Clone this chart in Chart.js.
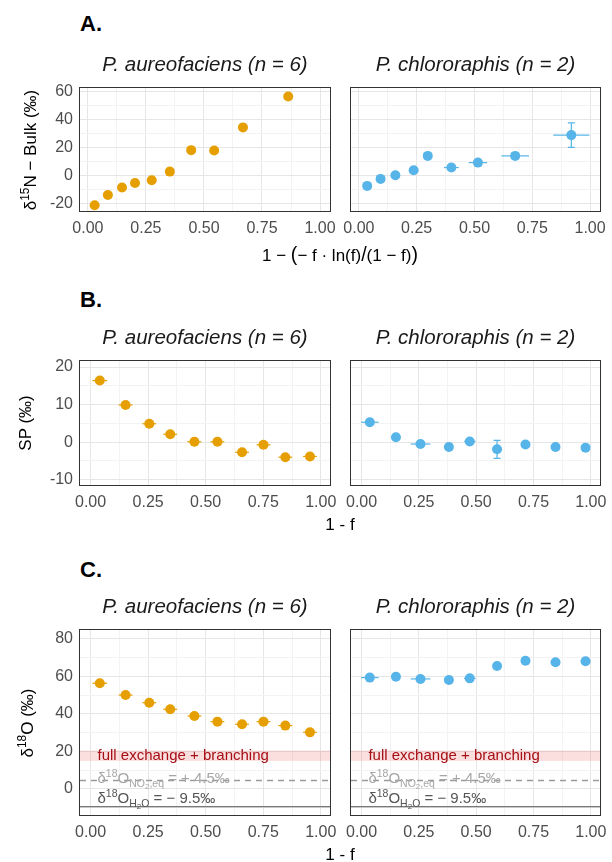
<!DOCTYPE html>
<html>
<head>
<meta charset="utf-8">
<script src="https://cdn.jsdelivr.net/npm/chart.js@4.4.1/dist/chart.umd.min.js"></script>
<style>
  html,body{margin:0;padding:0;background:#fff;}
  #fig{position:relative;width:612px;height:862px;overflow:hidden;background:#fff;
       font-family:"Liberation Sans",Arial,Helvetica,sans-serif;color:#1a1a1a;}
  #fig canvas{position:absolute;}
  .lbl{position:absolute;white-space:nowrap;line-height:1;}
  .plab{font-weight:bold;font-size:22px;color:#000;transform:translateY(-50%);}
  .facet{font-style:italic;font-size:20.5px;transform:translate(-50%,-50%);color:#1a1a1a;}
  .xt{font-size:17px;transform:translate(-50%,-50%);color:#000;}
  .yt{font-size:17px;transform:translate(-50%,-50%) rotate(-90deg);color:#000;}
  .lbl sup{font-size:70%;line-height:0;vertical-align:0.55em;}
  .big{font-size:115%;}
</style>
</head>
<body>
<div id="fig"></div>
<script>
Chart.defaults.font.family = '"Liberation Sans", Arial, Helvetica, sans-serif';

// ---------------- data ----------------
const xMajorTicks = [0, 0.25, 0.5, 0.75, 1];
const xMinorTicks = [0.125, 0.375, 0.625, 0.875];

const yMajorA = [-20, 0, 20, 40, 60];
const yMinorA = [-10, 10, 30, 50];
const yMajorB = [-10, 0, 10, 20];
const yMinorB = [-5, 5, 15];
const yMajorC = [0, 20, 40, 60, 80];
const yMinorC = [-10, 10, 30, 50, 70];

const speciesNames = ['P. aureofaciens (n = 6)', 'P. chlororaphis (n = 2)'];
const panelLetters = ['A.', 'B.', 'C.'];

// Panel A : x = 1 - (-f ln f / (1 - f)), y = delta15N bulk
const aAureoX   = [0.029, 0.086, 0.147, 0.203, 0.275, 0.353, 0.445, 0.544, 0.668, 0.863];
const aAureoY   = [-20.9, -13.6, -8.3, -5.0, -3.1, 3.1, 18.4, 18.2, 34.6, 56.7];
const aChloroX  = [0.036, 0.094, 0.158, 0.237, 0.298, 0.400, 0.515, 0.676, 0.919];
const aChloroY  = [-7.1, -2.1, 0.5, 4.1, 14.3, 6.0, 9.5, 14.3, 29.1];
const aChloroXErr = [0.005, 0.005, 0.005, 0.01, 0.01, 0.032, 0.04, 0.06, 0.078];
const aChloroYErr = [0.5, 0.5, 0.5, 0.5, 0.8, 0.8, 0.8, 0.8, 8.7];

// Panel B : x = 1 - f, y = SP
const bcAureoX  = [0.040, 0.152, 0.255, 0.346, 0.451, 0.551, 0.658, 0.751, 0.846, 0.953];
const bcAureoXErr = [0.032, 0.03, 0.03, 0.03, 0.03, 0.03, 0.03, 0.03, 0.03, 0.03];
const bAureoY   = [16.4, 9.9, 4.9, 2.1, 0.1, 0.1, -2.7, -0.7, -4.0, -3.8];
const bcChloroX = [0.036, 0.150, 0.257, 0.381, 0.472, 0.591, 0.715, 0.846, 0.977];
const bcChloroXErr = [0.038, 0.01, 0.043, 0.01, 0.025, 0.01, 0.01, 0.01, 0.01];
const bChloroY  = [5.3, 1.3, -0.5, -1.3, 0.2, -1.9, -0.6, -1.3, -1.5];
const bChloroYErr = [0.4, 0.4, 0.4, 0.4, 0.4, 2.4, 0.4, 0.4, 0.4];

// Panel C : x = 1 - f, y = delta18O
const cAureoY   = [56.4, 50.1, 46.0, 42.5, 38.9, 35.9, 34.5, 35.9, 33.8, 30.2];
const cChloroY  = [59.4, 59.9, 58.7, 58.1, 59.0, 65.6, 68.4, 67.6, 68.1];

// Panel C reference annotations
const cBand = [15, 20.5];
const cBandText = 'full exchange + branching';
const cBandTextY = 17.7;
const cEqLine = 4.5;
const cEqTextY = 3.0;
const cEqText = [['δ','n'],['18','sup'],['O','n'],['NO','sub'],['2','sub2'],[',eq','sub'],[' = + 4.5‰','n']];
const cWaterLine = -9.5;
const cWaterTextY = -7.3;
const cWaterText = [['δ','n'],['18','sup'],['O','n'],['H','sub'],['2','sub2'],['O','sub'],[' = − 9.5‰','n']];
const cLabelX = 0.03;

// ---------------- helpers ----------------
const ORANGE = '#E69F00', BLUE = '#56B4E9';
const FONT = '"Liberation Sans", Arial, Helvetica, sans-serif';
const pts = (xs, ys, xe, ye) => xs.map((x, i) => ({x, y: ys[i], xerr: xe ? xe[i] : 0, yerr: ye ? ye[i] : 0}));

function drawRich(ctx, x, y, segs, color) {
  const sizes = {n: 15, sup: 10.5, sub: 10.5, sub2: 8};
  const dys = {n: 0, sup: -6, sub: 4, sub2: 6};
  ctx.fillStyle = color;
  ctx.textBaseline = 'alphabetic';
  ctx.textAlign = 'left';
  let cx = x;
  segs.forEach(([t, r]) => {
    ctx.font = sizes[r] + 'px ' + FONT;
    ctx.fillText(t, cx, y + dys[r]);
    cx += ctx.measureText(t).width;
  });
}

const deco = {
  id: 'deco',
  beforeDatasetsDraw(chart, args, o) {
    const {ctx, chartArea: a, scales: {x, y}} = chart;
    ctx.save();
    ctx.beginPath();
    ctx.rect(a.left, a.top, a.right - a.left, a.bottom - a.top);
    ctx.clip();
    if (o.refs) {
      const r = o.refs;
      const yb1 = y.getPixelForValue(r.band[1]), yb0 = y.getPixelForValue(r.band[0]);
      ctx.fillStyle = 'rgba(232,60,60,0.17)';
      ctx.fillRect(a.left, yb1, a.right - a.left, yb0 - yb1);
      ctx.strokeStyle = '#9a9a9a'; ctx.lineWidth = 1.3; ctx.setLineDash([6, 5]);
      let py = y.getPixelForValue(r.eq);
      ctx.beginPath(); ctx.moveTo(a.left, py); ctx.lineTo(a.right, py); ctx.stroke();
      ctx.setLineDash([]);
      ctx.strokeStyle = '#4d4d4d'; ctx.lineWidth = 1.2;
      py = y.getPixelForValue(r.water);
      ctx.beginPath(); ctx.moveTo(a.left, py); ctx.lineTo(a.right, py); ctx.stroke();
      const lx = x.getPixelForValue(r.labelX);
      ctx.fillStyle = '#a50f15'; ctx.font = '15px ' + FONT;
      ctx.textBaseline = 'middle'; ctx.textAlign = 'left';
      ctx.fillText(r.bandText, lx, y.getPixelForValue(r.bandTextY));
      drawRich(ctx, lx, y.getPixelForValue(r.eqTextY), r.eqText, '#a6a6a6');
      drawRich(ctx, lx, y.getPixelForValue(r.waterTextY), r.waterText, '#555555');
    }
    chart.data.datasets.forEach(ds => {
      ctx.strokeStyle = ds.backgroundColor; ctx.lineWidth = 1.2;
      ds.data.forEach(p => {
        const px = x.getPixelForValue(p.x), py = y.getPixelForValue(p.y);
        if (p.xerr) {
          ctx.beginPath();
          ctx.moveTo(x.getPixelForValue(p.x - p.xerr), py);
          ctx.lineTo(x.getPixelForValue(p.x + p.xerr), py);
          ctx.stroke();
        }
        if (p.yerr) {
          const t = y.getPixelForValue(p.y + p.yerr), b = y.getPixelForValue(p.y - p.yerr);
          ctx.beginPath();
          ctx.moveTo(px, t); ctx.lineTo(px, b);
          ctx.moveTo(px - 3.5, t); ctx.lineTo(px + 3.5, t);
          ctx.moveTo(px - 3.5, b); ctx.lineTo(px + 3.5, b);
          ctx.stroke();
        }
      });
    });
    ctx.restore();
  },
  afterDraw(chart) {
    const {ctx, chartArea: a} = chart;
    ctx.save();
    ctx.strokeStyle = '#333333'; ctx.lineWidth = 1;
    ctx.strokeRect(a.left - 0.5, a.top - 0.5, a.right - a.left + 1, a.bottom - a.top + 1);
    ctx.restore();
  }
};

const fig = document.getElementById('fig');
function addText(html, cls, left, top) {
  const d = document.createElement('div');
  d.className = 'lbl ' + cls; d.innerHTML = html;
  d.style.left = left + 'px'; d.style.top = top + 'px';
  fig.appendChild(d);
}

const PANELS = [{left: 80, right: 330}, {left: 351, right: 600}];
const ROWS = [
  {top: 88, bottom: 211, xMin: -0.034, xMax: 1.043, yMin: -25, yMax: 62.7, yMaj: yMajorA, yMinr: yMinorA,
   letterY: 23.5, facetY: 64, xTitleY: 255, yTitleX: 30},
  {top: 361, bottom: 485, xMin: -0.046, xMax: 1.040, yMin: -11.4, yMax: 21.6, yMaj: yMajorB, yMinr: yMinorB,
   letterY: 300, facetY: 337, xTitleY: 524, yTitleX: 25},
  {top: 630, bottom: 815, xMin: -0.046, xMax: 1.040, yMin: -13.9, yMax: 84.8, yMaj: yMajorC, yMinr: yMinorC,
   letterY: 570, facetY: 606, xTitleY: 854, yTitleX: 27}
];

const isIn = (arr, v) => arr.some(m => Math.abs(m - v) < 1e-9);

function makePanel(side, row, datasets, refs) {
  const P = PANELS[side];
  const axisW = side === 0 ? 80 : 20;
  const padT = 20, axisH = 34, padR = side === 0 ? 20 : 12;
  const W = axisW + (P.right - P.left) + padR;
  const H = padT + (row.bottom - row.top) + axisH;
  const cv = document.createElement('canvas');
  cv.width = W; cv.height = H;
  cv.style.left = (P.left - axisW) + 'px';
  cv.style.top = (row.top - padT) + 'px';
  fig.appendChild(cv);
  const xTicks = xMajorTicks.concat(xMinorTicks).sort((a, b) => a - b);
  const yTicks = row.yMaj.concat(row.yMinr).sort((a, b) => a - b);
  const gridCol = (maj) => (c) => isIn(maj, c.tick.value) ? '#E6E6E6' : '#F3F3F3';
  new Chart(cv, {
    type: 'scatter',
    data: {datasets: datasets.map(d => ({
      data: d.data, backgroundColor: d.color, borderWidth: 0,
      pointRadius: 5, pointHoverRadius: 5
    }))},
    options: {
      responsive: false, animation: false, events: [],
      layout: {padding: {top: padT, right: padR, bottom: 0, left: 0}, autoPadding: false},
      plugins: {legend: {display: false}, tooltip: {enabled: false}, deco: {refs}},
      scales: {
        x: {
          type: 'linear', min: row.xMin, max: row.xMax,
          afterBuildTicks: s => { s.ticks = xTicks.map(v => ({value: v})); },
          afterFit: s => { s.height = axisH; s.paddingLeft = 0; s.paddingRight = 0; },
          grid: {drawTicks: false, color: gridCol(xMajorTicks), lineWidth: 1},
          border: {display: false},
          ticks: {autoSkip: false, maxRotation: 0, padding: 8, color: '#4d4d4d', font: {size: 16},
                  callback: v => isIn(xMajorTicks, v) ? v.toFixed(2) : ''}
        },
        y: {
          type: 'linear', min: row.yMin, max: row.yMax,
          afterBuildTicks: s => { s.ticks = yTicks.map(v => ({value: v})); },
          afterFit: s => { s.width = axisW; s.paddingTop = 0; s.paddingBottom = 0; },
          grid: {drawTicks: false, color: gridCol(row.yMaj), lineWidth: 1},
          border: {display: false},
          ticks: {display: side === 0, autoSkip: false, padding: 7, color: '#4d4d4d', font: {size: 16},
                  callback: v => isIn(row.yMaj, v) ? String(v) : ''}
        }
      }
    },
    plugins: [deco]
  });
}

const cRefs = {band: cBand, bandText: cBandText, bandTextY: cBandTextY, eq: cEqLine, eqTextY: cEqTextY,
  eqText: cEqText, water: cWaterLine, waterTextY: cWaterTextY, waterText: cWaterText, labelX: cLabelX};

makePanel(0, ROWS[0], [{data: pts(aAureoX, aAureoY), color: ORANGE}]);
makePanel(1, ROWS[0], [{data: pts(aChloroX, aChloroY, aChloroXErr, aChloroYErr), color: BLUE}]);
makePanel(0, ROWS[1], [{data: pts(bcAureoX, bAureoY, bcAureoXErr), color: ORANGE}]);
makePanel(1, ROWS[1], [{data: pts(bcChloroX, bChloroY, bcChloroXErr, bChloroYErr), color: BLUE}]);
makePanel(0, ROWS[2], [{data: pts(bcAureoX, cAureoY, bcAureoXErr), color: ORANGE}], cRefs);
makePanel(1, ROWS[2], [{data: pts(bcChloroX, cChloroY, bcChloroXErr), color: BLUE}], cRefs);

// ---------------- titles ----------------
const yTitles = ['δ<sup>15</sup>N − Bulk (‰)', 'SP (‰)', 'δ<sup>18</sup>O (‰)'];
const xTitles = ['1 − <span class="big">(</span>− f · ln(f)<span class="big">/</span>(1 − f)<span class="big">)</span>', '1 - f', '1 - f'];
ROWS.forEach((row, r) => {
  addText(panelLetters[r], 'plab', 80, row.letterY);
  PANELS.forEach((P, s) => addText(speciesNames[s], 'facet', (P.left + P.right) / 2, row.facetY));
  addText(xTitles[r], 'xt', (PANELS[0].left + PANELS[1].right) / 2, row.xTitleY);
  addText(yTitles[r], 'yt', row.yTitleX, (row.top + row.bottom) / 2);
});
</script>
</body>
</html>
